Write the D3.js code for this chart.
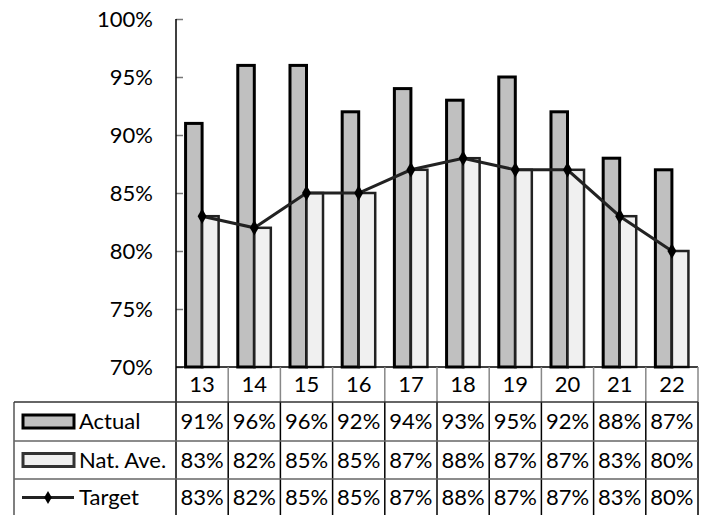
<!DOCTYPE html>
<html><head><meta charset="utf-8">
<script src="https://cdn.jsdelivr.net/npm/d3@7"></script>
<style>body{margin:0;background:#fff}svg{display:block}text{font-family:Lato,"Open Sans",sans-serif;fill:#000}</style>
</head><body><svg id="c" width="709" height="515"></svg>
<script>
const categories = ["13","14","15","16","17","18","19","20","21","22"];
const actual = [91,96,96,92,94,93,95,92,88,87];
const natAve = [83,82,85,85,87,88,87,87,83,80];
const target = [83,82,85,85,87,88,87,87,83,80];
const yTicks = [70,75,80,85,90,95,100];
const seriesNames = ["Actual","Nat. Ave.","Target"];

const svg = d3.select("#c");
const L = 176, R = 698, T = 19, B = 367;
const FS = "22px";
const x0 = d3.scaleBand().domain(categories).range([L,R]).padding(0);
const x1 = d3.scaleBand().domain(["a","n"]).range([0,x0.bandwidth()]).paddingInner(0).paddingOuter(0.58);
const y = d3.scaleLinear().domain([70,100]).range([B,T]);

// Y axis
const yAxis = d3.axisRight(y).tickValues(yTicks).tickSize(7).tickFormat("");
const ga = svg.append("g").attr("transform",`translate(${L},0)`).call(yAxis);
ga.select(".domain").remove();
ga.selectAll(".tick line").attr("stroke","#777").attr("stroke-width",1.5);
svg.append("line").attr("x1",L).attr("x2",L).attr("y1",T).attr("y2",515).attr("stroke","#000").attr("stroke-width",1.5);
svg.selectAll(".ylab").data(yTicks).join("text").attr("class","ylab")
  .attr("x",153).attr("y",d=>y(d)).attr("dy","0.36em").attr("text-anchor","end")
  .style("font-size",FS).text(d=>d+"%");

// Bars
const g = svg.append("g");
const cats = g.selectAll("g.cat").data(categories).join("g").attr("class","cat")
  .attr("transform",d=>`translate(${x0(d)},0)`);
cats.append("rect").attr("x",x1("a")).attr("width",x1.bandwidth())
  .attr("y",(d,i)=>y(actual[i])).attr("height",(d,i)=>B-y(actual[i]))
  .attr("fill","#c0c0c0").attr("stroke","#000").attr("stroke-width",3);
cats.append("rect").attr("x",x1("n")).attr("width",x1.bandwidth())
  .attr("y",(d,i)=>y(natAve[i])).attr("height",(d,i)=>B-y(natAve[i]))
  .attr("fill","#f0f0f0").attr("stroke","#222").attr("stroke-width",2.5);

// Target line
const cx = d=>x0(d)+x0.bandwidth()/2;
const line = d3.line().x((d,i)=>cx(categories[i])).y(d=>y(d));
svg.append("path").datum(target).attr("d",line).attr("fill","none").attr("stroke","#222").attr("stroke-width",3);
const diamond = d3.symbol().type(d3.symbolDiamond).size(70);
svg.selectAll(".mk").data(target).join("path").attr("class","mk")
  .attr("transform",(d,i)=>`translate(${cx(categories[i])},${y(d)})`)
  .attr("d",diamond).attr("fill","#000");

// x axis line
svg.append("line").attr("x1",L).attr("x2",R).attr("y1",B).attr("y2",B).attr("stroke","#000").attr("stroke-width",1.5);

// Table
const rowTops = [B, 402, 441, 479, 518];
const TL = 14;
svg.selectAll(".cl").data(categories).join("text").attr("class","cl")
  .attr("x",d=>cx(d)).attr("y",(rowTops[0]+rowTops[1])/2).attr("dy","0.36em")
  .attr("text-anchor","middle").style("font-size",FS).text(d=>d);
categories.forEach((c,i)=>{
  if(i>0) svg.append("line").attr("x1",x0(c)).attr("x2",x0(c)).attr("y1",B).attr("y2",rowTops[1]).attr("stroke","#888").attr("stroke-width",1.5);
  if(i>0) svg.append("line").attr("x1",x0(c)).attr("x2",x0(c)).attr("y1",rowTops[1]).attr("y2",515).attr("stroke","#000").attr("stroke-width",1.5);
});
svg.append("line").attr("x1",R).attr("x2",R).attr("y1",B).attr("y2",rowTops[1]).attr("stroke","#888").attr("stroke-width",1.5);
svg.append("line").attr("x1",R).attr("x2",R).attr("y1",rowTops[1]).attr("y2",515).attr("stroke","#000").attr("stroke-width",1.5);
svg.append("line").attr("x1",TL).attr("x2",TL).attr("y1",rowTops[1]).attr("y2",515).attr("stroke","#555").attr("stroke-width",1.5);
[1,2,3].forEach(k=>{
  svg.append("line").attr("x1",TL).attr("x2",R).attr("y1",rowTops[k]).attr("y2",rowTops[k]).attr("stroke",k===1?"#333":"#666").attr("stroke-width",1.5);
});
const rows = [actual,natAve,target];
const diamondSmall = d3.symbol().type(d3.symbolDiamond).size(50);
rows.forEach((vals,r)=>{
  const yc = (rowTops[r+1]+rowTops[r+2])/2 - (r===2?1:0);
  svg.selectAll(".v"+r).data(vals).join("text").attr("class","v"+r)
    .attr("x",(d,i)=>cx(categories[i])).attr("y",yc).attr("dy","0.36em")
    .attr("text-anchor","middle").style("font-size",FS).text(d=>d+"%");
  svg.append("text").attr("x",79).attr("y",yc).attr("dy","0.36em").style("font-size",FS).text(seriesNames[r]);
  if(r<2){
    svg.append("rect").attr("x",23).attr("y",yc-6.5).attr("width",51).attr("height",13)
      .attr("fill",r===0?"#c0c0c0":"#f0f0f0").attr("stroke",r===0?"#000":"#333").attr("stroke-width",3);
  } else {
    svg.append("line").attr("x1",22).attr("x2",74).attr("y1",yc).attr("y2",yc).attr("stroke","#222").attr("stroke-width",3);
    svg.append("path").attr("transform",`translate(48,${yc})`).attr("d",diamondSmall).attr("fill","#000");
  }
});
</script></body></html>
